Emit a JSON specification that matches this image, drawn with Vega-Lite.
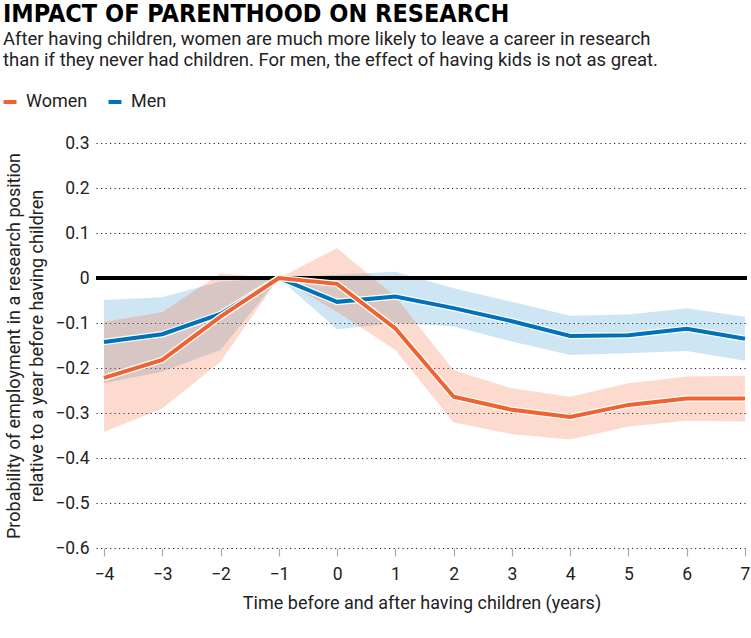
{
  "$schema": "https://vega.github.io/schema/vega-lite/v6.json",
  "width": 651,
  "height": 405,
  "autosize": {"type": "none"},
  "padding": {"left": 96, "top": 143, "right": 4, "bottom": 90},
  "background": "white",
  "title": {
    "text": "IMPACT OF PARENTHOOD ON RESEARCH",
    "subtitle": ["After having children, women are much more likely to leave a career in research", "than if they never had children. For men, the effect of having kids is not as great."],
    "anchor": "start",
    "frame": "bounds",
    "dx": 2,
    "font": "DejaVu Sans Condensed, sans-serif",
    "fontSize": 25,
    "fontWeight": "bold",
    "color": "#000",
    "subtitleFont": "Roboto",
    "subtitleFontSize": 18.5,
    "subtitleColor": "#222",
    "subtitleLineHeight": 21,
    "subtitlePadding": 3,
    "offset": 24
  },
  "datasets": {
    "d": [
      {"year": -4, "group": "Women", "est": -0.222, "lo": -0.342, "hi": -0.097},
      {"year": -3, "group": "Women", "est": -0.182, "lo": -0.290, "hi": -0.076},
      {"year": -2, "group": "Women", "est": -0.086, "lo": -0.186, "hi": 0.010},
      {"year": -1, "group": "Women", "est": 0, "lo": 0, "hi": 0},
      {"year": 0, "group": "Women", "est": -0.013, "lo": -0.075, "hi": 0.066},
      {"year": 1, "group": "Women", "est": -0.112, "lo": -0.16, "hi": -0.041},
      {"year": 2, "group": "Women", "est": -0.264, "lo": -0.321, "hi": -0.205},
      {"year": 3, "group": "Women", "est": -0.293, "lo": -0.347, "hi": -0.245},
      {"year": 4, "group": "Women", "est": -0.309, "lo": -0.359, "hi": -0.264},
      {"year": 5, "group": "Women", "est": -0.282, "lo": -0.330, "hi": -0.234},
      {"year": 6, "group": "Women", "est": -0.268, "lo": -0.317, "hi": -0.219},
      {"year": 7, "group": "Women", "est": -0.268, "lo": -0.319, "hi": -0.217},
      {"year": -4, "group": "Men", "est": -0.142, "lo": -0.234, "hi": -0.049},
      {"year": -3, "group": "Men", "est": -0.125, "lo": -0.208, "hi": -0.043},
      {"year": -2, "group": "Men", "est": -0.08, "lo": -0.16, "hi": -0.008},
      {"year": -1, "group": "Men", "est": 0, "lo": 0, "hi": 0},
      {"year": 0, "group": "Men", "est": -0.053, "lo": -0.114, "hi": 0.007},
      {"year": 1, "group": "Men", "est": -0.041, "lo": -0.10, "hi": 0.014},
      {"year": 2, "group": "Men", "est": -0.067, "lo": -0.108, "hi": -0.023},
      {"year": 3, "group": "Men", "est": -0.096, "lo": -0.141, "hi": -0.053},
      {"year": 4, "group": "Men", "est": -0.129, "lo": -0.171, "hi": -0.084},
      {"year": 5, "group": "Men", "est": -0.127, "lo": -0.167, "hi": -0.081},
      {"year": 6, "group": "Men", "est": -0.113, "lo": -0.162, "hi": -0.067},
      {"year": 7, "group": "Men", "est": -0.135, "lo": -0.184, "hi": -0.086}
    ]
  },
  "data": {"name": "d"},
  "encoding": {
    "x": {
      "field": "year", "type": "quantitative",
      "scale": {"domain": [-4.137, 7.034], "nice": false, "zero": false},
      "axis": {
        "values": [-4, -3, -2, -1, 0, 1, 2, 3, 4, 5, 6, 7],
        "title": "Time before and after having children (years)",
        "titleFont": "Roboto", "titleFontSize": 18, "titleFontWeight": "normal", "titleColor": "#222",
        "titlePadding": 12,
        "labelFont": "Roboto", "labelFontSize": 17.5, "labelColor": "#222", "labelPadding": 9,
        "domain": false, "grid": false, "ticks": true, "tickColor": "#aaa", "tickSize": 8, "tickWidth": 1.2
      }
    }
  },
  "layer": [
    {
      "transform": [{"filter": "datum.group === 'Men'"}],
      "mark": {"type": "area", "color": "#0a7bc2", "opacity": 0.2},
      "encoding": {
        "y": {
          "field": "lo", "type": "quantitative",
          "scale": {"domain": [-0.6, 0.3], "nice": false, "zero": false},
          "axis": {
            "values": [0.3, 0.2, 0.1, 0, -0.1, -0.2, -0.3, -0.4, -0.5, -0.6],
            "labelExpr": "datum.value == 0 ? '0' : format(datum.value, '.1f')",
            "title": ["Probability of employment in a research position", "relative to a year before having children"],
            "titleFont": "Roboto", "titleFontSize": 18, "titleFontWeight": "normal", "titleColor": "#222",
            "titleLineHeight": 23, "titlePadding": 8,
            "labelFont": "Roboto", "labelFontSize": 17.5, "labelColor": "#222", "labelPadding": 7,
            "domain": false, "ticks": false,
            "grid": true, "gridColor": "#222", "gridDash": [1.2, 3.3], "gridWidth": 1.2
          }
        },
        "y2": {"field": "hi"}
      }
    },
    {
      "transform": [{"filter": "datum.group === 'Women'"}],
      "mark": {"type": "area", "color": "#f26a36", "opacity": 0.25},
      "encoding": {
        "y": {"field": "lo", "type": "quantitative"},
        "y2": {"field": "hi"}
      }
    },
    {
      "mark": {"type": "rule", "color": "#000", "strokeWidth": 3},
      "encoding": {"y": {"datum": 0, "type": "quantitative"}, "x": {}}
    },
    {
      "transform": [{"filter": "datum.group === 'Men'"}],
      "mark": {"type": "line", "color": "white", "strokeWidth": 6.5, "strokeJoin": "miter"},
      "encoding": {"y": {"field": "est", "type": "quantitative"}}
    },
    {
      "transform": [{"filter": "datum.group === 'Men'"}],
      "mark": {"type": "line", "strokeWidth": 4, "strokeJoin": "miter"},
      "encoding": {
        "y": {"field": "est", "type": "quantitative"},
        "color": {"field": "group", "type": "nominal"}
      }
    },
    {
      "transform": [{"filter": "datum.group === 'Women'"}],
      "mark": {"type": "line", "color": "white", "strokeWidth": 6.5, "strokeJoin": "miter"},
      "encoding": {"y": {"field": "est", "type": "quantitative"}}
    },
    {
      "transform": [{"filter": "datum.group === 'Women'"}],
      "mark": {"type": "line", "strokeWidth": 4, "strokeJoin": "miter"},
      "encoding": {
        "y": {"field": "est", "type": "quantitative"},
        "color": {
          "field": "group", "type": "nominal",
          "scale": {"domain": ["Women", "Men"], "range": ["#ef6331", "#0072bc"]},
          "legend": {
            "orient": "none", "legendX": -95, "legendY": -50,
            "direction": "horizontal", "title": null, "padding": 0,
            "symbolType": "stroke", "symbolSize": 169, "symbolStrokeWidth": 4,
            "labelFont": "Roboto", "labelFontSize": 18, "labelColor": "#222",
            "labelOffset": 7, "columnPadding": 12
          }
        }
      }
    }
  ],
  "config": {
    "view": {"stroke": null},
    "line": {"strokeCap": "butt"}
  }
}
